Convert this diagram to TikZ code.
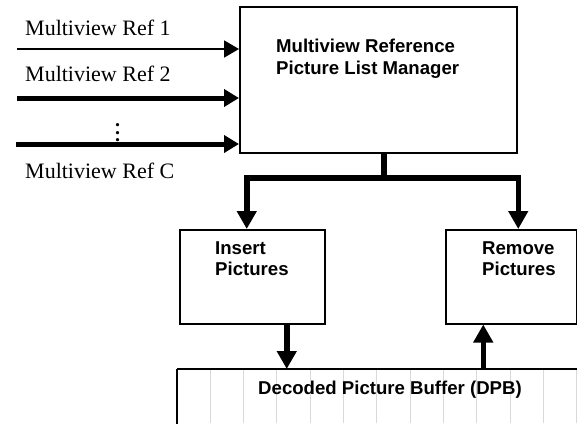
\documentclass[tikz,border=0pt]{standalone}
\usepackage{fontspec}
\newfontfamily\serifr{Liberation Serif}
\newfontfamily\sansb{Liberation Sans}[BoldFont={Liberation Sans Bold}]
\usetikzlibrary{arrows.meta}
\tikzset{
  box/.style={draw, line width=1.5pt, anchor=north west, inner sep=0pt, fill=white},
  reflabel/.style={anchor=base west, inner sep=0pt, font=\serifr\fontsize{22}{24}\selectfont},
  boxtext/.style={anchor=base west, inner sep=0pt, font=\sansb\bfseries\fontsize{18.6}{22}\selectfont},
  thinarrow/.style={line width=1.8pt, -{Triangle[length=15pt,width=17pt]}},
  thickarrow/.style={line width=5pt, -{Triangle[length=15pt,width=17pt]}},
  treearrow/.style={line width=5.5pt, -{Triangle[length=18pt,width=19pt]}},
  treeline/.style={line width=5.5pt},
}
\begin{document}
\begin{tikzpicture}[x=1pt,y=-1pt]
\useasboundingbox (0,0) rectangle (577,423);
\clip (0,0) rectangle (577,423);
% boxes
\node[box, minimum width=277pt, minimum height=146pt] (mgr) at (239,6) {};
\node[box, minimum width=145pt, minimum height=94pt] (ins) at (179,229) {};
\node[box, minimum width=131pt, minimum height=94pt] (rem) at (445,229) {};
\node[box, draw=none, minimum width=450pt, minimum height=80pt] (dpb) at (177,369) {};
% DPB grey lines
\foreach \i in {1,...,12} {
  \draw[line width=1pt, color=black!15] (177+\i*33.33,370) -- (177+\i*33.33,423);
}
\draw[line width=1.5pt] (dpb.north west) -- (dpb.north east);
\draw[line width=1.5pt] (dpb.north west) -- (dpb.south west);
% texts
\node[boxtext] (t1) at (276,52) {Multiview Reference};
\node[boxtext] (t2) at (276,74) {Picture List Manager};
\node[boxtext] (t3) at (215,254) {Insert};
\node[boxtext] (t4) at (215,275) {Pictures};
\node[boxtext] (t5) at (482,254) {Remove};
\node[boxtext] (t6) at (482,275) {Pictures};
\node[boxtext, anchor=base] (t7) at (390,394) {Decoded Picture Buffer (DPB)};
\node[reflabel] (l1) at (25,35) {Multiview Ref 1};
\node[reflabel] (l2) at (25,81) {Multiview Ref 2};
\node[reflabel] (l3) at (25,178) {Multiview Ref C};
\node[inner sep=0pt, align=center, anchor=center, font=\serifr\bfseries\fontsize{20}{7.4}\selectfont] (dots) at (117.7,133) {.\\.\\.};
% input arrows
\coordinate (a1) at (17,49);
\coordinate (a2) at (17,98);
\coordinate (a3) at (16,144);
\draw[thinarrow] (a1) -- (a1 -| mgr.west);
\draw[thickarrow] (a2) -- (a2 -| mgr.west);
\draw[thickarrow] (a3) -- (a3 -| mgr.west);
% tree
\coordinate (j) at (384,178);
\draw[treeline] (mgr.south -| j) -- (j);
\draw[treearrow] (j) -| ([xshift=-5.5pt]ins.north);
\draw[treearrow] (j) -| ([xshift=7pt]rem.north);
% to / from DPB
\draw[treearrow] ([xshift=34.5pt]ins.south) -- ([xshift=34.5pt]ins.south |- dpb.north);
\draw[treearrow] ([xshift=-28pt]rem.south |- dpb.north) -- ([xshift=-28pt]rem.south);
\end{tikzpicture}
\end{document}
